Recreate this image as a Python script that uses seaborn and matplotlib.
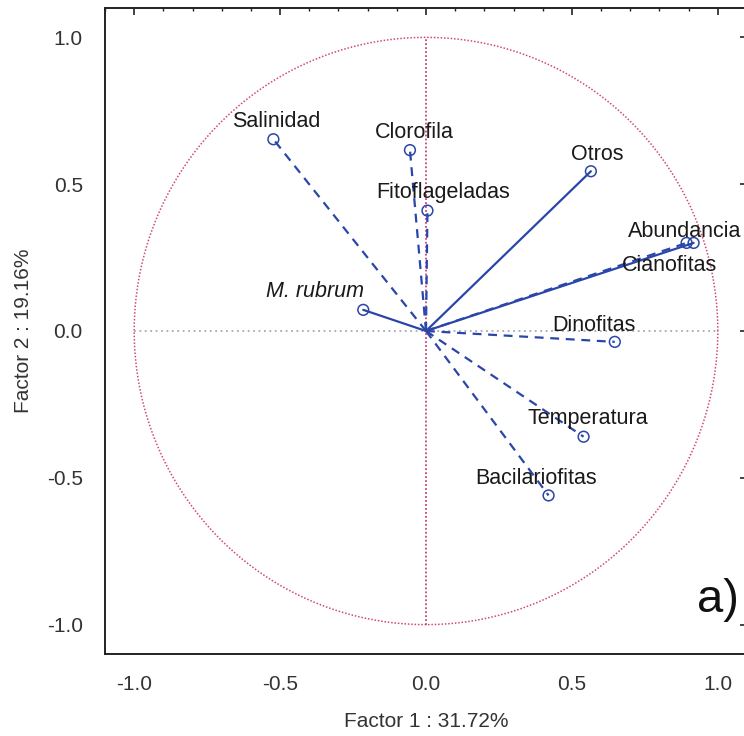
import numpy as np
import pandas as pd
import matplotlib
matplotlib.use("Agg")
import matplotlib.pyplot as plt
from matplotlib.ticker import MultipleLocator
import seaborn as sns

# Variable loadings on the first two factors
variables = ["Salinidad", "Clorofila", "Fitoflageladas", "Otros", "Abundancia",
             "Cianofitas", "M. rubrum", "Dinofitas", "Temperatura", "Bacilariofitas"]
factor1 = [-0.523, -0.055, 0.005, 0.565, 0.917, 0.893, -0.215, 0.647, 0.540, 0.420]
factor2 = [0.653, 0.616, 0.410, 0.544, 0.300, 0.300, 0.072, -0.037, -0.360, -0.560]
solid = [False, False, False, True, True, False, True, False, False, False]

xlabel = "Factor 1 : 31.72%"
ylabel = "Factor 2 : 19.16%"
ticks = [-1.0, -0.5, 0.0, 0.5, 1.0]
tick_labels = ["-1.0", "-0.5", "0.0", "0.5", "1.0"]

df = pd.DataFrame({"var": variables, "f1": factor1, "f2": factor2, "solid": solid})

sns.set_style("white")
plt.rcParams["font.family"] = ["Liberation Sans", "DejaVu Sans"]

fig = plt.figure(figsize=(7.44, 7.36), dpi=100)
ax = fig.add_axes([105 / 744, 82 / 736, 642 / 744, 646 / 736])
ax.set_xlim(-1.1, 1.1)
ax.set_ylim(-1.1, 1.1)

# unit circle and reference axes
theta = np.linspace(0, 2 * np.pi, 400)
ax.plot(np.cos(theta), np.sin(theta), ls=(0, (1, 1.2)), color="#d24a6c", lw=1.1, zorder=1)
ax.plot([0, 0], [-1, 1], ls=(0, (1, 1.2)), color="#d0407a", lw=1.3, zorder=1)
ax.plot([-1, 1], [0, 0], ls=(0, (1, 2)), color="#a8a8b4", lw=1.3, zorder=1)

line_color = "#2a46a8"
for _, r in df.iterrows():
    seg = pd.DataFrame({"x": [0.0, r.f1], "y": [0.0, r.f2]})
    sns.lineplot(data=seg, x="x", y="y", sort=False, ax=ax, color=line_color,
                 lw=1.6, linestyle="-" if r.solid else (0, (4, 3)), zorder=2)

sns.scatterplot(data=df, x="f1", y="f2", ax=ax, s=60, marker="o",
                facecolors="none", edgecolor=line_color, linewidth=1.1, zorder=3)

# label offsets in points
offsets = {
    "Salinidad": (2, 13),
    "Clorofila": (3.5, 13),
    "Fitoflageladas": (11.5, 13),
    "Otros": (4.3, 12),
    "Abundancia": (-6.5, 8),
    "Cianofitas": (-12, -16.5),
    "M. rubrum": (-35, 13),
    "Dinofitas": (-15, 12),
    "Temperatura": (3, 13),
    "Bacilariofitas": (-9, 12),
}
for _, r in df.iterrows():
    dx, dy = offsets[r["var"]]
    ax.annotate(r["var"], (r.f1, r.f2), xytext=(dx, dy), textcoords="offset points",
                ha="center", va="center", fontsize=15.5, color="#1a1a1a",
                style="italic" if r["var"] == "M. rubrum" else "normal", zorder=4)

ax.text(1.0, -0.99, "a)", fontsize=34, color="#111111", ha="center", va="bottom")

ax.set_xticks(ticks)
ax.set_xticklabels(tick_labels)
ax.set_yticks(ticks)
ax.set_yticklabels(tick_labels)
ax.xaxis.set_minor_locator(MultipleLocator(0.1))
ax.yaxis.set_minor_locator(MultipleLocator(0.1))
ax.tick_params(which="major", direction="in", length=5, width=1.2, top=True, right=True,
               labelsize=15, labelcolor="#333333", color="#222222")
ax.tick_params(axis="x", which="major", pad=15)
ax.tick_params(axis="y", which="major", pad=16)
ax.tick_params(which="minor", direction="in", length=2.5, width=1.0, top=True, right=True,
               color="#222222")
for s in ax.spines.values():
    s.set_color("#222222")
    s.set_linewidth(1.4)

ax.set_xlabel(xlabel, fontsize=15, color="#333333", labelpad=13)
ax.set_ylabel(ylabel, fontsize=15, color="#333333", labelpad=10)

fig.savefig("out.png", dpi=100)
